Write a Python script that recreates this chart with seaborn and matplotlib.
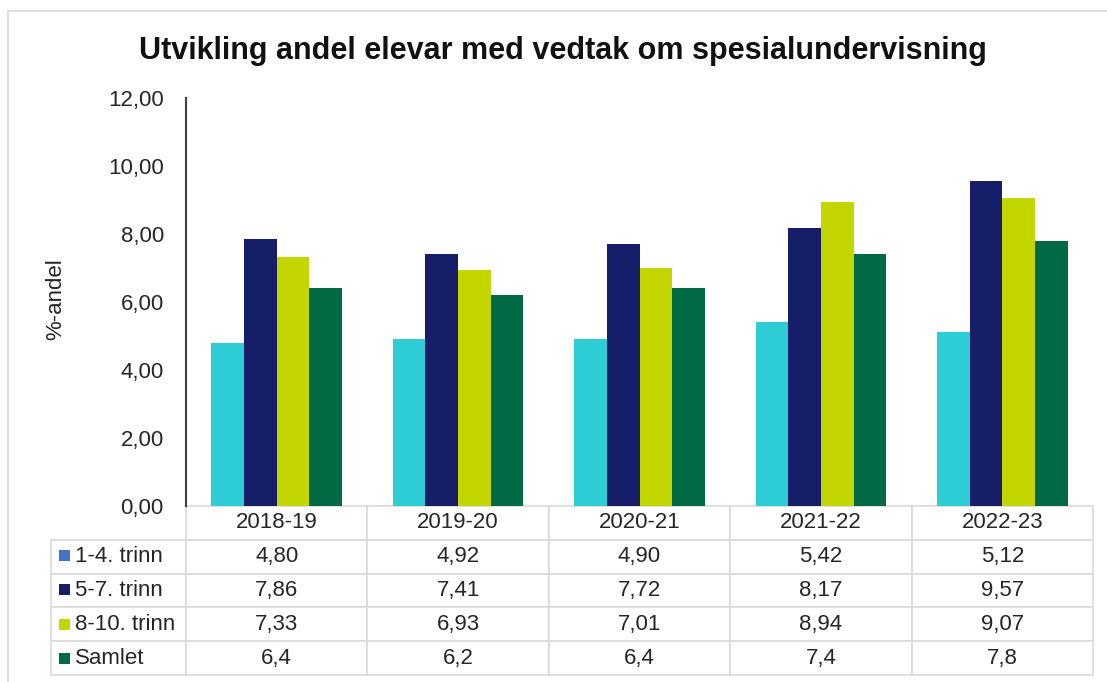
import numpy as np
import pandas as pd
import matplotlib
matplotlib.use("Agg")
import matplotlib.pyplot as plt
from matplotlib.patches import Rectangle
from matplotlib.lines import Line2D
import seaborn as sns

# data
years = ["2018-19", "2019-20", "2020-21", "2021-22", "2022-23"]
series = ["1-4. trinn", "5-7. trinn", "8-10. trinn", "Samlet"]
trinn_1_4 = [4.80, 4.92, 4.90, 5.42, 5.12]
trinn_5_7 = [7.86, 7.41, 7.72, 8.17, 9.57]
trinn_8_10 = [7.33, 6.93, 7.01, 8.94, 9.07]
samlet = [6.4, 6.2, 6.4, 7.4, 7.8]
table_text = [
    ["4,80", "4,92", "4,90", "5,42", "5,12"],
    ["7,86", "7,41", "7,72", "8,17", "9,57"],
    ["7,33", "6,93", "7,01", "8,94", "9,07"],
    ["6,4", "6,2", "6,4", "7,4", "7,8"],
]

bar_colors = ["#2ECCD4", "#161E6A", "#C4D600", "#006A45"]
key_colors = ["#4472C4", "#161E6A", "#C4D600", "#006A45"]


def main():
    sns.set_style("white")
    plt.rcParams["font.family"] = ["Liberation Sans", "DejaVu Sans"]

    df = pd.DataFrame({
        "year": years * 4,
        "serie": np.repeat(series, len(years)),
        "value": trinn_1_4 + trinn_5_7 + trinn_8_10 + samlet,
    })

    W, H = 1107, 682
    fig = plt.figure(figsize=(W / 100, H / 100), dpi=100)
    # axes box in pixels: x 186..1093, y 98..506
    ax = fig.add_axes([186 / W, 1 - 506 / H, 907 / W, 408 / H])

    sns.barplot(data=df, x="year", y="value", hue="serie", order=years,
                hue_order=series, palette=bar_colors, width=0.72,
                saturation=1, legend=False, linewidth=0, edgecolor="none",
                ax=ax)

    ax.set_xlim(-0.5, 4.5)
    ax.set_ylim(0, 12)
    yt = np.arange(0, 13, 2)
    ax.set_yticks(yt)
    ax.set_yticklabels([f"{v:.2f}".replace(".", ",") for v in yt])
    ax.tick_params(axis="y", length=0, pad=16, labelsize=16, labelcolor="#262626")
    ax.tick_params(axis="x", length=0, labelbottom=False)
    ax.set_xlabel("")
    ax.set_ylabel("%-andel", fontsize=16, color="#262626")
    ax.yaxis.set_label_coords((66 - 186) / 907, 0.507)
    for s in ["top", "right", "bottom"]:
        ax.spines[s].set_visible(False)
    ax.spines["left"].set_color("#404040")
    ax.spines["left"].set_linewidth(1.5)

    # data table under the plot
    cell_rows = [[series[i]] + table_text[i] for i in range(len(series))]
    col_w = [135 / 1042] + [181.4 / 1042] * 5
    tab = ax.table(cellText=cell_rows, colLabels=[""] + years, colWidths=col_w,
                   cellLoc="center",
                   bbox=[(51 - 186) / 907, -169 / 408, 1042 / 907, 169 / 408])
    tab.auto_set_font_size(False)
    for (r, c), cell in tab.get_celld().items():
        cell.set_edgecolor("#D9D9D9")
        cell.set_linewidth(1.2)
        cell.set_fontsize(16)
        cell.get_text().set_color("#262626")
        if r == 0 and c == 0:
            cell.visible_edges = ""
        if c == 0 and r > 0:
            cell._loc = "left"
            cell.PAD = 0.18
            cell.get_text().set_ha("left")

    # legend keys in the table
    for i, col in enumerate(key_colors):
        yc = 555 + i * 34.5
        ax.add_patch(Rectangle(((59 - 186) / 907, (506 - yc - 5.5) / 408),
                               11 / 907, 11 / 408, transform=ax.transAxes,
                               facecolor=col, edgecolor="none", clip_on=False))

    fig.text(563 / W, 1 - 51 / H,
             "Utvikling andel elevar med vedtak om spesialundervisning",
             ha="center", va="center", fontsize=22, fontweight="bold",
             color="#111111")

    # outer chart border
    fig.add_artist(Line2D([8 / W, 1.0], [1 - 11 / H] * 2, color="#D9D9D9",
                          lw=1.2, transform=fig.transFigure))
    fig.add_artist(Line2D([8 / W] * 2, [0, 1 - 11 / H], color="#D9D9D9",
                          lw=1.2, transform=fig.transFigure))

    fig.savefig("out.png", dpi=100)


if __name__ == '__main__':
    main()
